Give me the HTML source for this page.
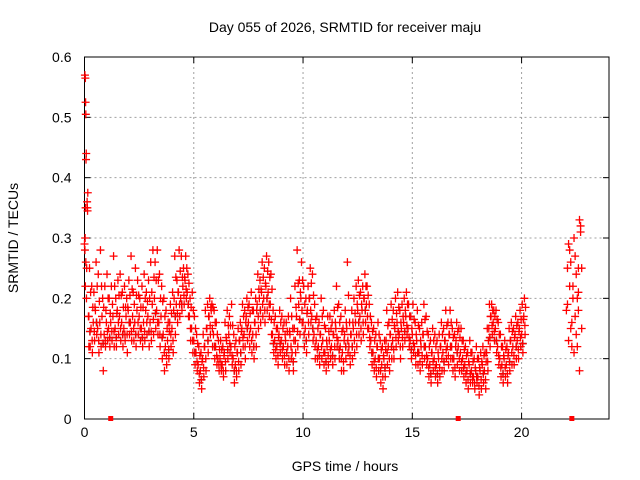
<!DOCTYPE html>
<html><head><meta charset="utf-8"><style>
body{margin:0;background:#fff}
svg{display:block;font-family:"Liberation Sans",sans-serif}
</style></head><body>
<svg id="chart" width="640" height="480" xmlns="http://www.w3.org/2000/svg">
<rect width="640" height="480" fill="#fff"/>
<text x="345" y="32" text-anchor="middle" font-size="14">Day 055 of 2026, SRMTID for receiver maju</text>
<text x="345" y="471" text-anchor="middle" font-size="14">GPS time / hours</text>
<text transform="translate(18,238) rotate(-90)" text-anchor="middle" font-size="14">SRMTID / TECUs</text>
<g id="grid"></g>
<g id="axes"></g>
<g id="marks"></g>
</svg>
<script>
const xTicks=[0,5,10,15,20];
const yTicks=[0,0.1,0.2,0.3,0.4,0.5,0.6];
const yTickLabels=["0","0.1","0.2","0.3","0.4","0.5","0.6"];
const hours=[0.2,0.3,0.4,0.5,0.6,0.7,0.8,0.9,1.0,1.1,1.2,1.3,1.4,1.5,1.6,1.7,1.8,1.9,2.0,2.1,2.2,2.3,2.4,2.5,2.6,2.7,2.8,2.9,3.0,3.1,3.2,3.3,3.4,3.5,3.6,3.7,3.8,3.9,4.0,4.1,4.2,4.3,4.4,4.5,4.6,4.7,4.8,4.9,5.0,5.1,5.2,5.3,5.4,5.5,5.6,5.7,5.8,5.9,6.0,6.1,6.2,6.3,6.4,6.5,6.6,6.7,6.8,6.9,7.0,7.1,7.2,7.3,7.4,7.5,7.6,7.7,7.8,7.9,8.0,8.1,8.2,8.3,8.4,8.5,8.6,8.7,8.8,8.9,9.0,9.1,9.2,9.3,9.4,9.5,9.6,9.7,9.8,9.9,10.0,10.1,10.2,10.3,10.4,10.5,10.6,10.7,10.8,10.9,11.0,11.1,11.2,11.3,11.4,11.5,11.6,11.7,11.8,11.9,12.0,12.1,12.2,12.3,12.4,12.5,12.6,12.7,12.8,12.9,13.0,13.1,13.2,13.3,13.4,13.5,13.6,13.7,13.8,13.9,14.0,14.1,14.2,14.3,14.4,14.5,14.6,14.7,14.8,14.9,15.0,15.1,15.2,15.3,15.4,15.5,15.6,15.7,15.8,15.9,16.0,16.1,16.2,16.3,16.4,16.5,16.6,16.7,16.8,16.9,17.0,17.1,17.2,17.3,17.4,17.5,17.6,17.7,17.8,17.9,18.0,18.1,18.2,18.3,18.4,18.5,18.6,18.7,18.8,18.9,19.0,19.1,19.2,19.3,19.4,19.5,19.6,19.7,19.8,19.9,20.0,20.1];
const seriesA=[.17,.15,.16,.18,.15,.16,.17,.14,.16,.15, .16,.17,.15,.18,.17,.16,.15,.17,.18,.16, .17,.16,.18,.17,.15,.16,.18,.17,.16,.19, .2,.18,.16,.17,.14,.12,.13,.16,.15,.2, .19,.21,.2,.22,.23,.21,.17,.15,.13,.11, .09,.08,.1,.12,.15,.17,.18,.14,.12,.1, .1,.09,.11,.13,.14,.12,.1,.09,.11,.13, .15,.14,.17,.16,.15,.14,.16,.19,.2,.21, .2,.22,.21,.19,.14,.13,.12,.14,.13,.12, .13,.12,.14,.11,.15,.17,.19,.2,.16,.15, .18,.2,.17,.14,.13,.12,.14,.13,.11,.12, .13,.12,.14,.15,.13,.12,.11,.14,.15,.12, .14,.15,.16,.18,.17,.18,.2,.19,.15,.13, .11,.1,.12,.1,.09,.1,.13,.12,.14,.13, .15,.16,.14,.15,.16,.17,.15,.13,.14,.12, .13,.11,.12,.14,.12,.1,.09,.11,.1,.09, .1,.12,.11,.13,.12,.14,.12,.1,.13,.12, .11,.1,.09,.08,.09,.08,.07,.08,.07,.08, .09,.08,.11,.15,.17,.16,.15,.12,.1,.09, .1,.09,.11,.13,.12,.14,.13,.15,.14,.17];
const seriesB=[.25,.22,.21,.26,.24,.28,.2,.22,.24,.2, .22,.27,.2,.23,.24,.21,.22,.2,.23,.27, .21,.25,.23,.2,.22,.24,.21,.23,.26,.28, .26,.28,.24,.22,.2,.18,.16,.19,.21,.27, .23,.28,.27,.25,.27,.24,.2,.21,.17,.14, .12,.11,.14,.18,.19,.2,.19,.18,.16,.13, .13,.12,.16,.18,.17,.19,.14,.13,.15,.16, .19,.18,.2,.19,.21,.18,.2,.24,.23,.26, .25,.27,.26,.24,.18,.17,.15,.18,.17,.16, .16,.17,.2,.15,.22,.28,.23,.26,.22,.2, .22,.25,.24,.19,.17,.16,.2,.18,.15,.17, .17,.16,.18,.22,.19,.17,.15,.18,.26,.16, .18,.2,.22,.23,.21,.22,.24,.22,.19,.16, .15,.14,.16,.13,.12,.13,.18,.16,.19,.18, .2,.21,.18,.19,.2,.21,.19,.17,.19,.16, .18,.15,.16,.19,.17,.14,.13,.15,.14,.13, .14,.16,.15,.18,.16,.18,.15,.14,.16,.15, .15,.13,.12,.11,.13,.11,.1,.12,.1,.11, .12,.11,.15,.19,.19,.18,.18,.16,.14,.12, .13,.12,.15,.16,.15,.17,.16,.18,.19,.2];
const seriesC=[.12,.11,.13,.14,.11,.12,.08,.12,.13,.12, .13,.12,.12,.14,.13,.12,.13,.11,.14,.13, .13,.12,.14,.13,.12,.13,.14,.12,.13,.14, .15,.14,.12,.1,.08,.09,.1,.12,.11,.14, .16,.17,.18,.19,.2,.17,.13,.11,.09,.08, .06,.05,.07,.08,.11,.14,.12,.1,.09,.08, .08,.07,.08,.1,.11,.09,.06,.07,.08,.09, .12,.1,.13,.12,.11,.1,.12,.15,.16,.17, .16,.18,.17,.14,.11,.1,.09,.11,.1,.09, .09,.08,.1,.08,.11,.12,.14,.16,.12,.11, .14,.16,.13,.1,.1,.09,.1,.09,.08,.09, .1,.09,.1,.12,.1,.08,.08,.1,.11,.09, .1,.11,.12,.14,.13,.14,.16,.15,.12,.09, .08,.07,.08,.06,.05,.07,.09,.08,.1,.1, .12,.13,.1,.12,.13,.14,.12,.1,.11,.09, .09,.08,.09,.1,.09,.07,.06,.08,.07,.06, .07,.08,.08,.1,.09,.1,.08,.07,.09,.08, .08,.07,.06,.05,.06,.06,.05,.06,.04,.05, .06,.05,.08,.12,.14,.13,.11,.09,.07,.06, .07,.06,.08,.09,.09,.1,.1,.12,.11,.14];
const extraHours=[0.02,0.04,0.05,0.06,0.08,0.07,0.05,0.03,0.02,0.06,0.1,0.15,0.12,0.14,0.13,0.04,0.2,0.0,0.09,0.18, 22.05,22.1,22.15,22.2,22.25,22.3,22.35,22.4,22.45,22.5,22.55,22.6,22.65,22.7,22.75,22.1,22.2,22.3,22.4,22.5,22.6,22.7,22.15,22.35,22.55,22.75,22.65,22.25,22.45,22.6];
const extraValues=[.57,.565,.525,.505,.44,.43,.35,.30,.28,.26,.25,.375,.36,.345,.35,.22,.12,.29,.2,.17, .18,.25,.29,.22,.15,.12,.2,.3,.27,.24,.2,.25,.33,.32,.25,.19,.28,.16,.11,.14,.18,.31,.13,.22,.12,.15,.08,.26,.17,.21];
const gapHours=[1.2,17.1,22.3];

const X0=84.5,X1=609,Y0=419,Y1=57,XMAX=24,YMAX=0.6;
const xs=h=>X0+(X1-X0)*h/XMAX;
const ys=v=>Y0-(Y0-Y1)*v/YMAX;
const NS="http://www.w3.org/2000/svg";
function mk(tag,parent,attrs){const e=document.createElementNS(NS,tag);for(const k in attrs)e.setAttribute(k,attrs[k]);parent.appendChild(e);return e;}
const grid=document.getElementById('grid'),axes=document.getElementById('axes'),marks=document.getElementById('marks');
xTicks.forEach((t,i)=>{
  const x=xs(t);
  if(t>0){const g=mk('line',grid,{x1:x,x2:x,y1:Y0,y2:Y1,stroke:'#a0a0a0','stroke-dasharray':'2,3'});
  
  }
  mk('line',axes,{x1:x,x2:x,y1:Y0,y2:Y0-6,stroke:'#000'});
  mk('line',axes,{x1:x,x2:x,y1:Y1,y2:Y1+6,stroke:'#000'});
  const tx=mk('text',axes,{x:x,y:Y0+18,'text-anchor':'middle','font-size':'14'});
  tx.textContent=String(t);
  
  
});
yTicks.forEach((t,i)=>{
  const y=ys(t);
  if(t>0&&t<YMAX){const g=mk('line',grid,{x1:X0,x2:X1,y1:y,y2:y,stroke:'#a0a0a0','stroke-dasharray':'2,3'});
  
  }
  mk('line',axes,{x1:X0,x2:X0+6,y1:y,y2:y,stroke:'#000'});
  mk('line',axes,{x1:X1,x2:X1-6,y1:y,y2:y,stroke:'#000'});
  const tx=mk('text',axes,{x:X0-13,y:y+5,'text-anchor':'end','font-size':'14'});
  tx.textContent=yTickLabels[i];
  
  
});
const fr=mk('rect',axes,{x:X0,y:Y1,width:X1-X0,height:Y0-Y1,fill:'none',stroke:'#000'});


function plus(h,v,color){
  const x=xs(h),y=ys(v);
  const p=mk('path',marks,{d:`M${x-4},${y}h8M${x},${y-4}v8`,stroke:color,'stroke-width':1.3,fill:'none'});
  
  
}
hours.forEach((h,i)=>{if(i%3===0)plus(h+0.05,(seriesA[i]+seriesC[i])/2,'#000');});
hours.forEach((h,i)=>{
  plus(h,seriesA[i],'#f00');plus(h+0.03,seriesB[i],'#f00');plus(h+0.06,seriesC[i],'#f00');
  plus(h+0.08,(seriesA[i]+seriesB[i])/2,'#f00');plus(h+0.05,(seriesA[i]+seriesC[i])/2,'#f00');
});
extraHours.forEach((h,i)=>plus(h,extraValues[i],'#f00'));
gapHours.forEach(h=>{
  const r=mk('rect',marks,{x:xs(h)-2.5,y:Y0-3,width:5,height:5,fill:'#f00'});
  
  
});
</script>
</body></html>
